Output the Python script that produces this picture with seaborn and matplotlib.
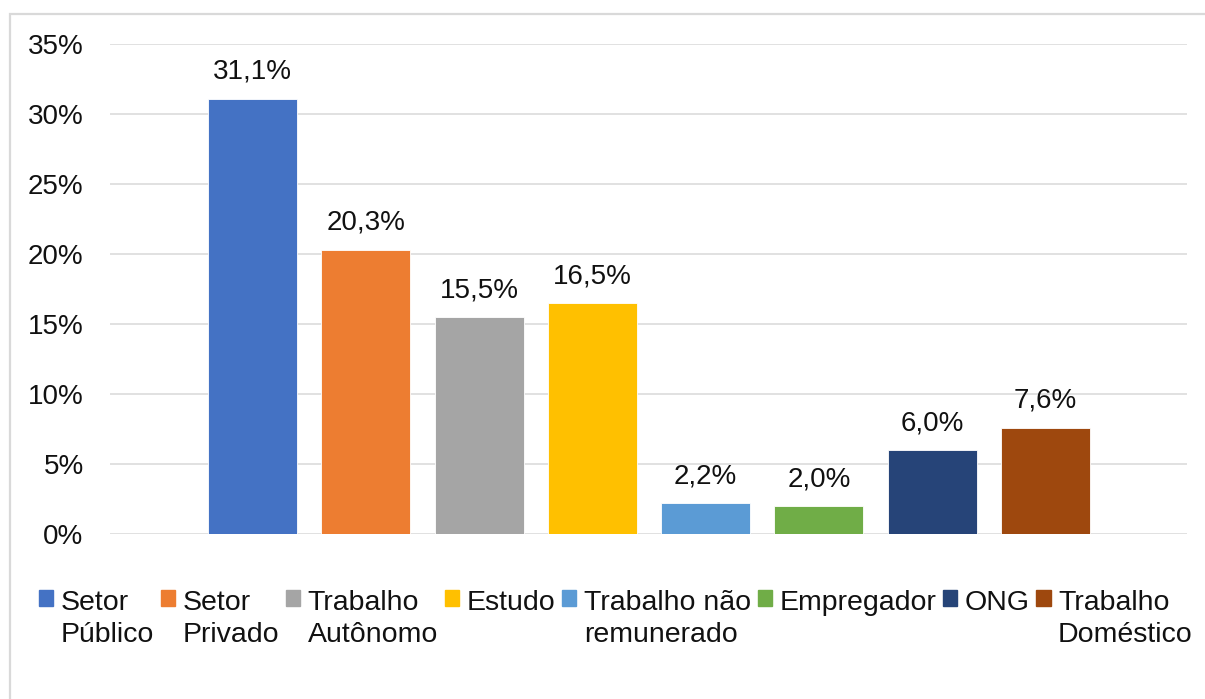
import seaborn as sns
import numpy as np
import matplotlib.pyplot as plt
from matplotlib.patches import Rectangle

categories = ["Setor\nPúblico", "Setor\nPrivado", "Trabalho\nAutônomo", "Estudo\n ",
              "Trabalho não\nremunerado", "Empregador\n ", "ONG\n ", "Trabalho\nDoméstico"]
values = [31.1, 20.3, 15.5, 16.5, 2.2, 2.0, 6.0, 7.6]
colors = ["#4472C4", "#ED7D31", "#A5A5A5", "#FFC000", "#5B9BD5", "#70AD47", "#264478", "#9E480E"]
yticks = [0, 5, 10, 15, 20, 25, 30, 35]

sns.set_style("white")
plt.rcParams["font.family"] = ["Liberation Sans", "DejaVu Sans"]
fs = 20
txt = "#111111"

fig = plt.figure(figsize=(12.05, 6.99), dpi=100)
ax = fig.add_axes([110 / 1205, 1 - 534 / 699, (1187 - 110) / 1205, (534 - 44) / 699])

sns.barplot(x=categories, y=values, hue=categories, palette=colors, width=0.785,
            saturation=1, edgecolor="white", linewidth=0.6, ax=ax, legend=False)

for c in ax.containers:
    ax.bar_label(c, labels=[f"{v:.1f}%".replace(".", ",") for v in c.datavalues],
                 padding=10, fontsize=fs, color=txt)

ax.set_ylim(0, 35)
ax.set_xlim(-1.26, 8.25)
ax.set_yticks(yticks)
ax.set_yticklabels([f"{t}%" for t in yticks], fontsize=fs, color=txt)
ax.tick_params(axis="y", length=0, pad=19)
ax.set_xticks([])
ax.set_xlabel("")
ax.set_ylabel("")
ax.grid(axis="y", color="#d9d9d9", linewidth=1.1)
ax.set_axisbelow(True)
sns.despine(ax=ax, left=True, bottom=True)

handles = [Rectangle((0, 0), 1, 1, color=col) for col in colors]
leg = fig.legend(handles, categories, loc="upper left",
                 bbox_to_anchor=(39 / 1205, 1 - 590 / 699), ncol=8, frameon=False,
                 fontsize=20.5, handlelength=0.5, handleheight=0.5, handletextpad=0.26,
                 columnspacing=0.24, borderpad=0, borderaxespad=0)
for t in leg.get_texts():
    t.set_color(txt)
    t.set_linespacing(1.32)
for col in leg._legend_handle_box.get_children():
    for item in col.get_children():
        item.align = "top"

fig.add_artist(Rectangle((10 / 1205, -0.1), 1.2, 0.1 + 1 - 13.5 / 699, transform=fig.transFigure,
                         fill=False, edgecolor="#d9d9d9", linewidth=1.6))

fig.savefig("out.png", dpi=100)
